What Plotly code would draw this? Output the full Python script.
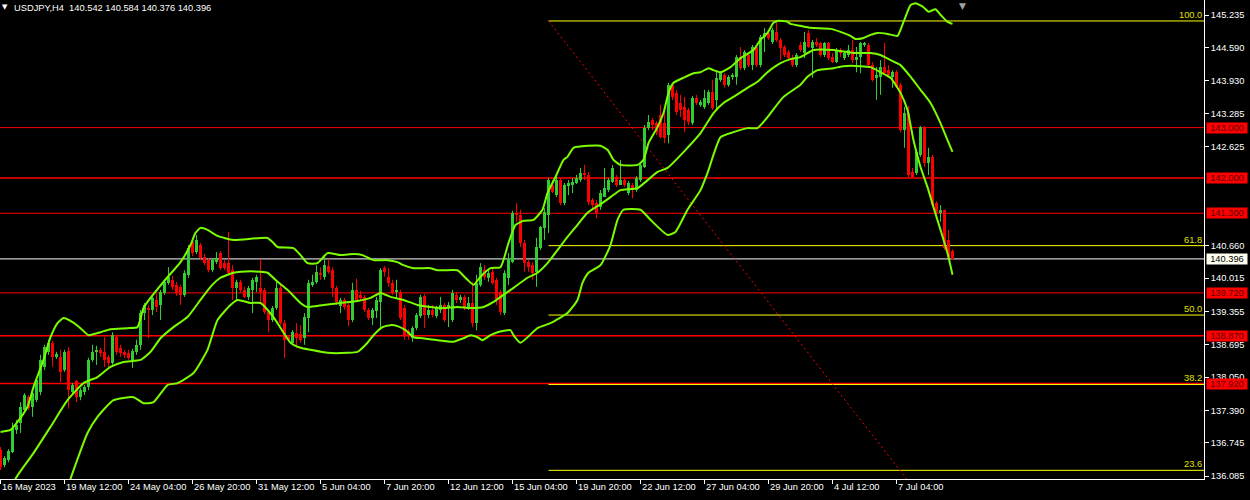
import plotly.graph_objects as go

# ---------------- data (USDJPY H4) ----------------
open_ = [
 136.60,136.30,136.40,136.56,137.00,137.14,137.40,137.65,137.46,137.59,   # 0-9
 137.75,138.25,138.55,138.73,138.45,138.45,138.19,138.57,137.75,137.97,   # 10-19
 137.65,137.75,137.85,138.39,138.55,138.59,138.55,138.45,138.33,138.84,   # 20-29
 138.63,138.55,138.53,138.39,138.55,138.69,139.32,139.42,139.38,139.58,   # 30-39
 139.48,139.72,139.92,139.98,139.88,139.84,139.68,140.08,140.73,140.53,   # 40-49
 140.67,140.43,140.37,140.17,140.33,140.51,140.31,140.31,140.17,139.82,   # 50-59
 139.94,139.78,139.64,139.78,139.94,139.82,139.78,139.34,139.18,139.42,   # 60-69
 139.82,139.12,138.84,138.73,138.92,138.90,138.82,139.22,139.88,139.94,   # 70-79
 140.12,140.04,140.25,140.17,139.82,139.46,139.58,139.48,139.18,139.78,   # 80-89
 139.68,139.64,139.38,139.22,139.36,139.54,140.21,140.04,139.92,139.74,   # 90-99
 139.74,139.42,138.96,138.82,139.02,139.26,139.66,139.28,139.38,139.26,   # 100-109
 139.38,139.48,139.42,139.18,139.68,139.58,139.64,139.44,139.52,139.12,   # 110-119
 139.88,140.17,140.02,140.14,139.98,139.74,139.32,140.02,140.33,141.31,   # 120-129
 141.27,140.71,140.33,140.27,140.14,140.61,141.01,141.27,141.86,141.66,   # 130-139
 141.96,141.50,141.84,141.86,141.90,141.96,142.10,142.06,141.56,141.50,   # 140-149
 141.42,141.62,141.76,141.92,142.02,141.86,141.96,141.70,141.86,141.76,   # 150-159
 141.96,142.22,142.99,143.15,143.09,143.25,143.09,142.85,143.85,143.69,   # 160-169
 143.49,143.41,143.35,143.09,143.59,143.45,143.41,143.49,143.71,143.55,   # 170-179
 143.95,144.04,143.85,144.00,144.00,144.40,144.18,144.44,144.24,144.60,   # 180-189
 144.24,144.80,144.88,144.70,144.90,144.74,144.60,144.50,144.38,144.24,   # 190-199
 144.64,144.48,144.88,144.58,144.70,144.68,144.44,144.68,144.40,144.30,   # 200-209
 144.54,144.38,144.44,144.54,144.34,144.40,144.64,144.64,144.24,143.99,   # 210-219
 144.00,144.20,144.14,144.00,144.10,143.85,142.95,143.29,142.12,142.10,   # 220-229
 142.46,143.01,142.30,142.42,141.50,141.31,141.37,140.77,140.542]         # 230-238
high = [
 136.66,136.48,136.62,137.14,137.20,137.55,137.73,137.69,137.77,138.03,
 138.49,138.69,138.79,138.77,138.55,138.59,138.59,138.65,137.93,137.99,
 137.83,137.89,138.43,138.69,138.67,138.63,138.84,138.49,138.94,138.88,
 138.69,138.59,138.59,138.61,138.79,139.38,139.52,139.48,139.64,139.70,
 139.78,139.98,140.23,140.06,139.94,139.88,140.17,140.67,140.77,140.87,
 140.71,140.49,140.41,140.41,140.53,140.55,140.37,140.93,140.27,139.98,
 139.98,139.84,139.86,140.02,140.08,140.39,139.82,139.38,139.46,139.94,
 139.88,139.18,138.88,138.98,139.12,139.08,139.32,139.98,140.08,140.27,
 140.23,140.47,140.39,140.23,139.86,139.62,139.62,139.54,139.92,140.00,
 139.76,139.68,139.42,139.42,139.64,140.21,140.25,140.21,139.98,139.98,
 139.78,139.48,139.00,139.06,139.32,139.68,139.70,139.48,139.48,139.46,
 139.64,139.52,139.54,139.78,139.74,139.68,139.68,139.64,139.94,140.08,
 140.31,140.27,140.17,140.21,140.02,139.78,140.17,140.51,141.35,141.50,
 141.37,140.77,140.37,140.33,140.81,141.05,141.40,142.00,141.96,142.02,
 142.00,141.90,141.96,142.00,142.06,142.20,142.26,142.12,141.60,141.56,
 141.76,142.20,142.00,142.26,142.06,142.36,142.00,141.94,141.90,142.04,
 142.30,143.05,143.25,143.19,143.13,143.45,143.31,143.89,143.89,143.75,
 143.65,143.61,143.39,143.63,143.65,143.55,143.75,143.75,143.95,144.14,
 144.12,144.08,144.04,144.08,144.44,144.60,144.54,144.48,144.64,144.64,
 144.84,144.98,144.94,144.98,145.10,144.78,144.64,144.54,144.44,144.48,
 144.70,144.90,144.94,144.74,144.78,144.70,144.70,144.70,144.48,144.58,
 144.58,144.50,144.64,144.74,144.60,144.70,144.70,144.68,144.30,144.20,
 144.34,144.68,144.24,144.14,144.14,143.89,143.41,143.43,142.20,142.56,
 143.03,143.03,142.60,142.46,141.54,141.46,141.37,140.97,140.584]
low = [
 136.20,136.26,136.36,136.54,136.92,136.94,137.36,137.40,137.26,137.55,
 137.69,138.19,138.49,138.25,138.41,137.95,138.15,137.42,137.69,137.55,
 137.59,137.69,137.79,138.35,138.29,138.45,138.25,138.25,138.29,138.49,
 138.45,138.43,138.39,138.23,138.49,138.59,139.18,138.82,139.28,139.34,
 139.18,139.68,139.88,139.78,139.66,139.48,139.64,140.02,140.45,140.49,
 140.37,140.27,140.13,140.13,140.29,140.17,140.17,140.07,139.58,139.58,
 139.72,139.62,139.58,139.32,139.74,139.54,139.30,138.94,139.14,139.38,
 139.08,138.43,138.75,138.69,138.63,138.73,138.69,138.94,139.84,139.90,
 139.98,139.98,140.10,139.64,139.48,139.32,139.38,139.06,139.14,139.54,
 139.58,139.34,139.18,139.08,139.22,139.04,140.04,139.84,139.68,139.62,
 139.18,138.79,138.79,138.75,138.98,139.22,139.02,139.22,139.24,139.22,
 139.32,139.14,139.04,139.14,139.52,139.52,139.38,139.38,139.04,138.98,
 139.84,139.98,139.94,139.88,139.48,139.28,139.28,139.88,140.31,141.13,
 140.63,140.14,140.14,139.98,139.84,140.57,140.77,140.91,141.70,141.62,
 141.46,141.46,141.66,141.70,141.88,141.92,141.96,141.46,141.37,141.20,
 141.37,141.62,141.72,141.90,141.82,141.86,141.82,141.66,141.60,141.72,
 141.92,142.20,142.95,142.95,142.85,142.79,142.69,142.69,143.55,143.25,
 143.21,142.91,143.05,143.05,143.45,143.41,143.37,143.45,143.35,143.35,
 143.91,143.79,143.81,143.95,143.85,144.14,144.14,144.20,144.14,144.20,
 144.20,144.50,144.74,144.66,144.70,144.34,144.40,144.34,144.20,144.20,
 144.50,144.38,144.58,143.99,144.60,144.40,144.40,144.34,144.28,144.28,
 144.40,144.34,144.40,144.28,144.10,144.08,144.60,144.20,143.91,143.55,
 143.65,144.04,144.00,143.79,143.79,142.91,142.60,142.02,142.00,142.06,
 142.42,142.22,142.06,141.42,141.27,141.13,140.57,140.41,140.376]
close = [
 136.26,136.44,136.58,137.04,137.10,137.46,137.69,137.44,137.73,137.99,
 138.39,138.65,138.73,138.45,138.51,138.15,138.55,137.79,137.89,137.65,
 137.79,137.85,138.39,138.55,138.59,138.53,138.39,138.33,138.88,138.55,
 138.53,138.49,138.43,138.57,138.69,139.32,139.48,139.38,139.62,139.44,
 139.74,139.94,140.04,139.84,139.72,139.68,140.12,140.61,140.51,140.77,
 140.41,140.31,140.17,140.37,140.41,140.21,140.21,140.11,139.82,139.94,
 139.78,139.64,139.82,139.98,140.04,139.74,139.34,139.18,139.42,139.82,
 139.12,138.79,138.79,138.94,138.82,138.79,139.24,139.92,139.94,140.14,
 140.08,140.27,140.14,139.82,139.54,139.58,139.44,139.18,139.78,139.58,
 139.62,139.38,139.22,139.38,139.58,140.17,140.14,139.92,139.72,139.78,
 139.22,138.88,138.88,139.02,139.28,139.64,139.28,139.38,139.28,139.42,
 139.48,139.18,139.48,139.72,139.58,139.64,139.44,139.52,139.12,139.92,
 140.23,140.04,140.12,139.92,139.58,139.34,140.12,140.41,141.31,141.27,
 140.71,140.31,140.23,140.12,140.63,141.03,141.33,141.96,141.72,141.96,
 141.50,141.86,141.90,141.92,142.00,142.10,142.06,141.52,141.46,141.31,
 141.70,141.80,141.96,142.20,141.86,141.96,141.86,141.90,141.76,142.00,
 142.26,142.99,143.11,143.05,142.91,142.81,142.79,143.85,143.61,143.31,
 143.35,143.15,143.11,143.59,143.49,143.51,143.59,143.71,143.39,143.99,
 144.08,143.85,144.00,144.04,144.40,144.18,144.50,144.24,144.60,144.24,
 144.80,144.88,144.78,144.94,144.74,144.58,144.44,144.38,144.24,144.44,
 144.54,144.70,144.60,144.70,144.64,144.44,144.68,144.38,144.30,144.54,
 144.48,144.48,144.54,144.34,144.40,144.68,144.68,144.24,143.95,144.04,
 144.20,144.08,144.04,144.10,143.81,142.95,143.29,142.06,142.02,142.52,
 143.01,142.30,142.42,141.46,141.31,141.37,140.61,140.43,140.396]

# Bollinger bands (bar position, price)
bb_upper_bar = [0,2.5,4.25,6.75,8.25,10.75,12.5,14.25,15.75,18,20,22,25,27.5,31.75,34.25,35.75,37.5,40.75,45,
                47.5,48.75,50,51.75,54.25,58.25,66.75,68,69.25,73.25,75,76.75,79.25,81.75,85,88.25,90.5,93.25,96.75,99.25,
                100.75,103.25,107.5,109.25,114.25,115,116.75,118.25,120,122.5,125,127,128.75,130.75,133.25,135.5,136.75,138.75,140.75,141.75,
                143.25,146.75,150,151.75,153.25,155,159.25,160.75,162,164.25,165.75,167,168.25,170.75,173.25,175,177,178.25,180,182.5,
                185,188.25,190,191.75,193.25,194.5,196.75,197.5,200,202.5,207.5,210,212.5,213.75,215.75,217.5,219.25,221.75,224.25,225,
                226.25,227.5,228.75,230.75,232,233.75,235,236.75,238]
bb_upper = [136.96,137.00,137.16,137.46,137.85,138.39,138.84,139.12,139.22,139.14,139.02,138.88,138.94,139.00,139.02,139.04,139.42,139.62,139.94,140.33,
            140.67,140.91,141.01,140.97,140.85,140.77,140.81,140.73,140.63,140.61,140.47,140.31,140.31,140.51,140.47,140.49,140.47,140.37,140.37,140.33,
            140.27,140.21,140.21,140.17,140.17,140.12,139.98,139.88,140.04,140.21,140.23,140.71,141.07,141.15,141.17,141.37,141.70,142.02,142.36,142.42,
            142.60,142.64,142.64,142.56,142.36,142.26,142.26,142.36,142.69,143.01,143.29,143.69,143.89,143.99,144.08,144.10,144.18,144.14,144.10,144.20,
            144.38,144.54,144.74,144.88,145.08,145.12,145.10,145.06,145.02,144.98,144.96,144.90,144.82,144.76,144.78,144.84,144.88,144.86,144.82,144.94,
            145.20,145.43,145.47,145.39,145.30,145.35,145.24,145.10,145.06]
bb_mid_bar = [3,3.75,8.25,12.5,16.75,20.75,24.25,27.5,30.75,35,37.5,40,43.25,46.75,50,52.5,55,58.25,60,65,
              66.75,69.25,71.75,75,76.75,80.75,85,89.25,92.5,95,97.5,100.75,104.25,107.5,110.75,114.25,117.5,120.75,123.25,125.75,
              128.25,131.75,134.25,136.75,139.25,141.75,144.25,146.75,150,152.5,155,159.25,164.25,166.75,171.75,175,178.25,180.75,183.25,186.75,
              189.25,191.75,195,197.5,200,203.25,208.25,213.25,217.5,220,222.5,225,227.5,230,232.5,235,236.75,238]
bb_mid = [135.77,136.03,136.54,137.06,137.59,137.93,138.05,138.25,138.35,138.39,138.55,138.82,139.04,139.24,139.58,139.84,140.02,140.12,140.14,140.14,
          140.12,139.94,139.78,139.52,139.44,139.48,139.52,139.56,139.62,139.72,139.64,139.58,139.48,139.44,139.42,139.44,139.42,139.44,139.54,139.68,
          139.82,140.02,140.12,140.31,140.57,140.83,141.07,141.31,141.48,141.62,141.76,141.80,142.12,142.20,142.60,142.89,143.29,143.49,143.61,143.79,
          143.91,144.10,144.28,144.36,144.40,144.54,144.54,144.48,144.48,144.44,144.34,144.24,144.01,143.75,143.49,143.09,142.75,142.52]
bb_lower_bar = [16.25,17.5,21.75,24.25,28.25,33.25,35.75,38.25,41.75,44.25,48.25,51.75,54.25,57.5,59.25,62.5,65,68.25,72.5,75,
                77.5,81.75,86.75,89.25,91.75,93.25,95.5,97.5,99.25,101.25,103.25,105.5,109.25,113.25,115.75,117.5,119.25,120.5,122.5,124.25,
                127.5,128.25,130,134.25,137.5,141.75,144.25,145.5,147,150,152.5,154.25,155.75,160,162.5,166.75,168.75,171.75,175,176.75,
                180,183.25,186.75,189.25,191.75,195.75,200,201.75,204.25,208.25,210.75,215,217.5,220,222.5,225,226.75,228.25,230,231.75,
                233.25,235,236.75,238]
bb_lower = [135.71,136.03,136.94,137.26,137.59,137.65,137.53,137.55,137.89,137.93,138.13,138.59,139.18,139.48,139.58,139.52,139.52,139.24,138.73,138.63,
            138.59,138.53,138.53,138.55,138.73,138.88,139.04,139.08,139.06,138.98,138.84,138.82,138.78,138.75,138.82,138.88,138.84,138.78,138.88,138.94,
            138.98,138.88,138.73,139.02,139.12,139.32,139.58,139.92,140.12,140.27,140.67,141.17,141.37,141.37,141.17,140.87,140.93,141.37,141.76,142.10,
            142.81,142.91,142.99,142.99,143.21,143.61,143.85,144.01,144.14,144.18,144.22,144.22,144.20,144.10,143.99,143.69,143.35,142.75,142.22,141.82,
            141.42,140.97,140.51,140.08]

time_tick_bars = [0,16,32,48,64,80,96,112,128,144,160,176,192,208,224]
time_tick_labels = ["16 May 2023","19 May 12:00","24 May 04:00","26 May 20:00","31 May 12:00",
                    "5 Jun 04:00","7 Jun 20:00","12 Jun 12:00","15 Jun 04:00","19 Jun 20:00",
                    "22 Jun 12:00","27 Jun 04:00","29 Jun 20:00","4 Jul 12:00","7 Jul 04:00"]
price_ticks = [145.235,144.590,143.930,143.285,142.625,140.660,140.015,139.355,
               138.695,138.050,137.390,136.745,136.085]
level_lines = [143.000,142.000,141.300,139.720,138.870,137.920]
level_major = [False,True,False,False,True,True]
fib_high, fib_low = 145.117, 133.443
fib_start_bar, fib_end_bar = 137, 252
fib_levels = [100.0, 61.8, 50.0, 38.2, 23.6]
bid_price = 140.396
symbol_title = "USDJPY,H4  140.542 140.584 140.376 140.396"

# ---------------- styling ----------------
BULL = "#32CD32"
BEAR = "#FF0000"
BAND = "#7CFC00"
YEL = "#FFFF00"
FONT = "Liberation Sans"
FS = 9.3
X_RANGE = [-0.125, 300.875]
Y_RANGE = [136.026, 145.533]

n = min(len(open_), len(high), len(low), len(close))
idx = list(range(n))
up = [i for i in idx if close[i] >= open_[i]]
dn = [i for i in idx if close[i] < open_[i]]
MIN_BODY = 0.02


def bodies(ii):
    base = [min(open_[i], close[i]) for i in ii]
    hgt = [max(abs(close[i] - open_[i]), MIN_BODY) for i in ii]
    return base, hgt


def wicks(ii):
    xs, ys = [], []
    for i in ii:
        xs += [i, i, None]
        ys += [low[i], high[i], None]
    return xs, ys


fig = go.Figure()

fig.add_trace(go.Scatter(x=[fib_start_bar, fib_end_bar], y=[fib_high, fib_low], mode="lines",
                         line=dict(color="#FF0000", width=1, dash="2px,3px"), hoverinfo="skip"))

for ii, col in ((up, BULL), (dn, BEAR)):
    wx, wy = wicks(ii)
    fig.add_trace(go.Scatter(x=wx, y=wy, mode="lines", line=dict(color=col, width=1),
                             hoverinfo="skip"))
    b, h = bodies(ii)
    fig.add_trace(go.Bar(x=ii, y=h, base=b, width=0.75,
                         marker=dict(color=col, line=dict(width=0)), hoverinfo="skip"))

for bx, by in ((bb_upper_bar, bb_upper), (bb_mid_bar, bb_mid), (bb_lower_bar, bb_lower)):
    fig.add_trace(go.Scatter(x=bx, y=by, mode="lines",
                             line=dict(color=BAND, width=2, shape="spline", smoothing=0.5),
                             hoverinfo="skip"))

shapes = []
# fib level rays (from the anchor bar to the right edge), drawn behind the price levels
for lv in fib_levels:
    price = fib_low + (fib_high - fib_low) * lv / 100.0
    shapes.append(dict(type="line", xref="x", x0=fib_start_bar, x1=X_RANGE[1], yref="y",
                       y0=price, y1=price, line=dict(color=YEL, width=1), layer="below"))
for lv, major in zip(level_lines, level_major):
    shapes.append(dict(type="line", xref="paper", x0=0, x1=1, yref="y", y0=lv, y1=lv,
                       line=dict(color="#FF0000", width=1.6 if major else 1), layer="below"))
shapes.append(dict(type="line", xref="paper", x0=0, x1=1, yref="y", y0=bid_price, y1=bid_price,
                   line=dict(color="#C8C8C8", width=1.2), layer="below"))

ann = []
for tb, tl in zip(time_tick_bars, time_tick_labels):
    ann.append(dict(x=tb, xref="x", y=0, yref="paper", text=tl, showarrow=False,
                    xanchor="left", yanchor="top", xshift=-1, yshift=-1,
                    font=dict(family=FONT, size=FS, color="white")))
for lv in level_lines:
    ann.append(dict(x=1, xref="paper", y=lv, yref="y", text=f"{lv:.3f}", showarrow=False,
                    xanchor="left", yanchor="middle", xshift=2, width=40, height=10,
                    align="center", bgcolor="#FF0000", borderpad=0,
                    font=dict(family=FONT, size=FS, color="#600000")))
ann.append(dict(x=1, xref="paper", y=bid_price, yref="y", text=f"{bid_price:.3f}", showarrow=False,
                xanchor="left", yanchor="middle", xshift=2, width=40, height=10,
                align="center", bgcolor="#FFFFF0", borderpad=0,
                font=dict(family=FONT, size=FS, color="black")))
for lv in fib_levels:
    price = fib_low + (fib_high - fib_low) * lv / 100.0
    ann.append(dict(x=1, xref="paper", y=price, yref="y", text=f"{lv:.1f}", showarrow=False,
                    xanchor="right", yanchor="bottom", xshift=0, yshift=-1,
                    font=dict(family=FONT, size=FS, color="#E0E000")))
ann.append(dict(x=0, xref="paper", y=1, yref="paper", text="▼", showarrow=False,
                xanchor="left", yanchor="top", xshift=0, yshift=-1,
                font=dict(family="DejaVu Sans", size=7, color="white")))
ann.append(dict(x=0, xref="paper", y=1, yref="paper", text=symbol_title, showarrow=False,
                xanchor="left", yanchor="top", xshift=12, yshift=-1,
                font=dict(family=FONT, size=FS, color="white")))
ann.append(dict(x=240.5, xref="x", y=1, yref="paper", text="▼", showarrow=False,
                xanchor="center", yanchor="top", yshift=1,
                font=dict(family="DejaVu Sans", size=9, color="#A0A0A0")))

fig.update_layout(
    width=1250, height=500, autosize=False,
    margin=dict(l=0, r=46, t=0, b=21, pad=0),
    paper_bgcolor="black", plot_bgcolor="black",
    showlegend=False, barmode="overlay", bargap=0,
    font=dict(family=FONT, size=FS, color="white"),
    shapes=shapes, annotations=ann,
)
fig.update_xaxes(range=X_RANGE, showgrid=False, zeroline=False, showline=True,
                 linecolor="white", linewidth=1, ticks="outside", ticklen=4,
                 tickcolor="white", tickvals=time_tick_bars, showticklabels=False,
                 fixedrange=True)
fig.update_yaxes(range=Y_RANGE, side="right", showgrid=False, zeroline=False, showline=True,
                 linecolor="white", linewidth=1, ticks="outside", ticklen=4, tickcolor="white",
                 tickvals=price_ticks, ticktext=[f"{v:.3f}" for v in price_ticks],
                 tickfont=dict(family=FONT, size=FS, color="white"), fixedrange=True)

fig.write_html("out.html", config={"displayModeBar": False},
               post_script="document.body.style.margin='0';document.body.style.overflow='hidden';")
